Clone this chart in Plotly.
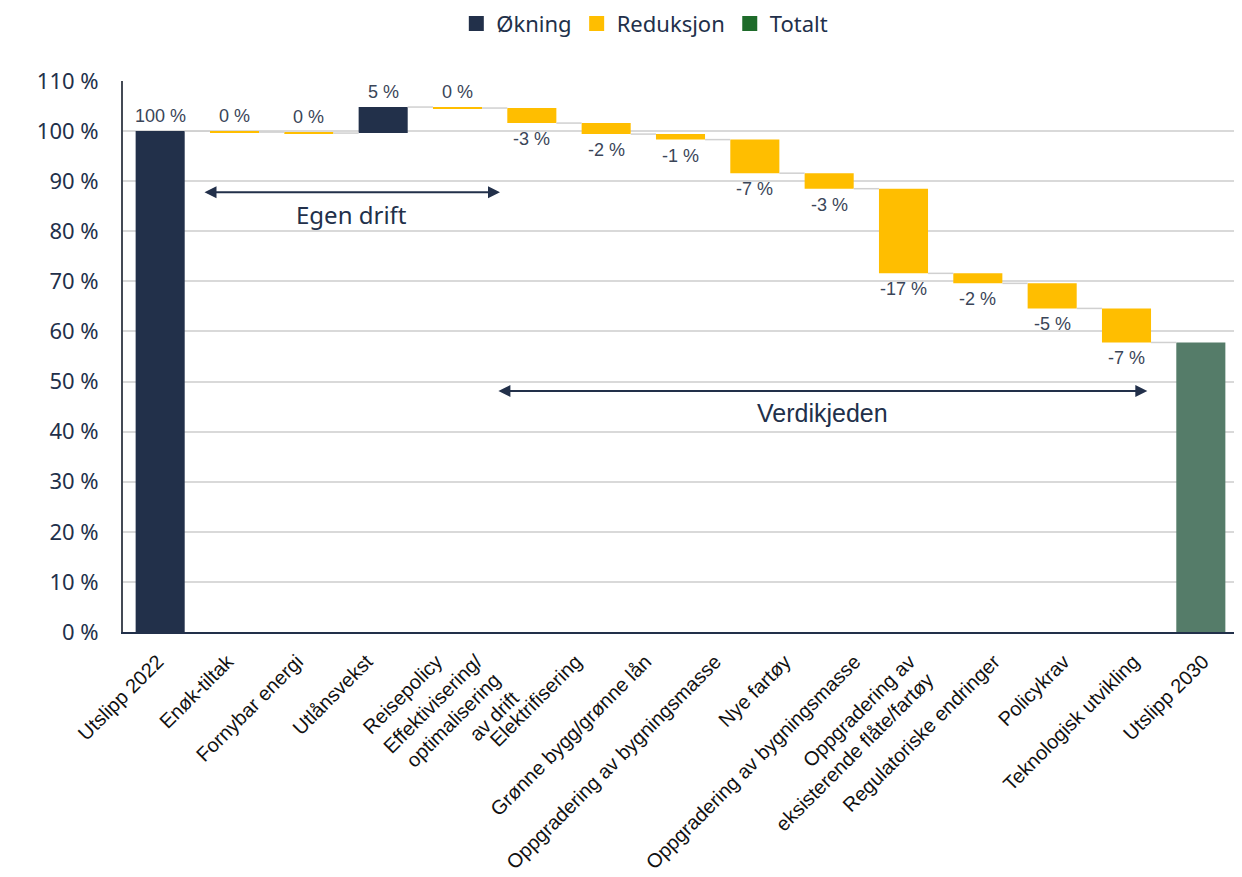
import plotly.graph_objects as go

# ---- data ----
tick_labels = [
    "Utslipp 2022", "Enøk-tiltak", "Fornybar energi", "Utlånsvekst", "Reisepolicy",
    "Effektivisering/<br>optimalisering<br>av drift", "Elektrifisering",
    "Grønne bygg/grønne lån", "Oppgradering av bygningsmasse", "Nye fartøy",
    "Oppgradering av bygningsmasse", "Oppgradering av<br>eksisterende flåte/fartøy",
    "Regulatoriske endringer", "Policykrav", "Teknologisk utvikling", "Utslipp 2030",
]
# bar steps (first is the 2022 starting level, last bar is the 2030 total)
steps = [100, -0.2, -0.2, 5.2, -0.2, -3.0, -2.2, -1.1, -6.7, -3.1, -16.9, -2.0, -5.0, -6.8]
legend_names = ["Økning", "Reduksjon", "Totalt"]

NAVY = "#22304A"
YELLOW = "#FFBE00"
GREEN_BAR = "#557C69"
GREEN_LEG = "#1E6B2A"
GRID = "#D9D9D9"
LABEL_C = "#3A4558"

# ---- derived waterfall geometry ----
n_bars = len(steps) + 1
bases, heights, colors = [], [], []
level = 0.0
for s in steps:
    start, end = level, level + s
    bases.append(min(start, end))
    heights.append(abs(s))
    colors.append(NAVY if s > 0 else YELLOW)
    level = end
total = level
bases.append(0); heights.append(total); colors.append(GREEN_BAR)

xs = list(range(n_bars))
bar_w = 0.66

fig = go.Figure()

# connectors
cx, cy = [], []
lvl = 0.0
for i, s in enumerate(steps):
    lvl += s
    cx += [i + bar_w / 2, i + 1 - bar_w / 2, None]
    cy += [lvl, lvl, None]
fig.add_trace(go.Scatter(x=cx, y=cy, mode="lines", line=dict(color="#D0D0D0", width=1.5),
                         showlegend=False, hoverinfo="skip"))

fig.add_trace(go.Bar(x=xs, y=heights, base=bases, width=bar_w,
                     marker=dict(color=colors, line=dict(width=0)),
                     showlegend=False))

for name, c in zip(legend_names, [NAVY, YELLOW, GREEN_LEG]):
    fig.add_trace(go.Scatter(x=[None], y=[None], mode="markers", name=name,
                             marker=dict(symbol="square", size=15, color=c)))

# value labels
for i, s in enumerate(steps):
    b, h = bases[i], heights[i]
    txt = f"{round(s):d} %"
    if s > -0.5:
        fig.add_annotation(x=i, y=b + h, text=txt, showarrow=False, yanchor="bottom", yshift=3,
                           font=dict(family="Liberation Sans, Arial", size=18, color=LABEL_C))
    else:
        fig.add_annotation(x=i, y=b, text=txt, showarrow=False, yanchor="top", yshift=-4,
                           font=dict(family="Liberation Sans, Arial", size=18, color=LABEL_C))

# tick positions for the 16 labels spread evenly across the axis
lo, hi = -0.5, n_bars - 0.5
nt = len(tick_labels)
unit_px = 1115 / (hi - lo)
tickvals = []
for k, lab in enumerate(tick_labels):
    nlines = lab.count("<br>") + 1
    tickvals.append(lo + (hi - lo) * (k + 0.5) / nt - (nlines - 1) * 15 / unit_px)

fig.update_layout(
    width=1234, height=869,
    margin=dict(l=115, r=4, t=73, b=245, autoexpand=False),
    plot_bgcolor="white", paper_bgcolor="white",
    barmode="overlay",
    showlegend=True,
    legend=dict(orientation="h", x=0.468, xanchor="center", y=1.104, yanchor="middle",
                font=dict(family="Noto Sans", size=22, color=NAVY),
                itemwidth=30, tracegroupgap=0),
    font=dict(family="Noto Sans", color=NAVY),
)
fig.update_xaxes(range=[lo, hi], tickvals=tickvals, ticktext=tick_labels, tickangle=-45,
                 tickfont=dict(family="Liberation Sans, Arial", size=20, color="#111111"),
                 showgrid=False, zeroline=False, showline=True, linecolor=NAVY, linewidth=2,
                 ticklabelstandoff=8, automargin=False)
fig.update_yaxes(range=[0, 110], tickvals=list(range(0, 111, 10)),
                 ticktext=[f"{v} %" for v in range(0, 111, 10)],
                 tickfont=dict(family="Noto Sans", size=22, color=NAVY),
                 showgrid=True, gridcolor=GRID, gridwidth=1.5, zeroline=False,
                 showline=True, linecolor="#444A55", linewidth=2,
                 ticklabelstandoff=18, automargin=False)

# span arrows
for x0, x1, ya, ty, label, fam, fs in [
    (0.576, 4.572, 87.8, 83.4, "Egen drift", "Noto Sans", 24),
    (4.53, 13.28, 48.1, 43.7, "Verdikjeden", "Liberation Sans", 25),
]:
    fig.add_annotation(x=x1, y=ya, ax=x0, ay=ya, xref="x", yref="y", axref="x", ayref="y",
                       showarrow=True, arrowhead=2, arrowside="end+start", arrowsize=1.2,
                       arrowwidth=2, arrowcolor=NAVY, text="")
    fig.add_annotation(x=(x0 + x1) / 2, y=ty, xref="x", yref="y", text=label, showarrow=False,
                       font=dict(family=fam, size=fs, color=NAVY))

fig.write_html("out.html")
